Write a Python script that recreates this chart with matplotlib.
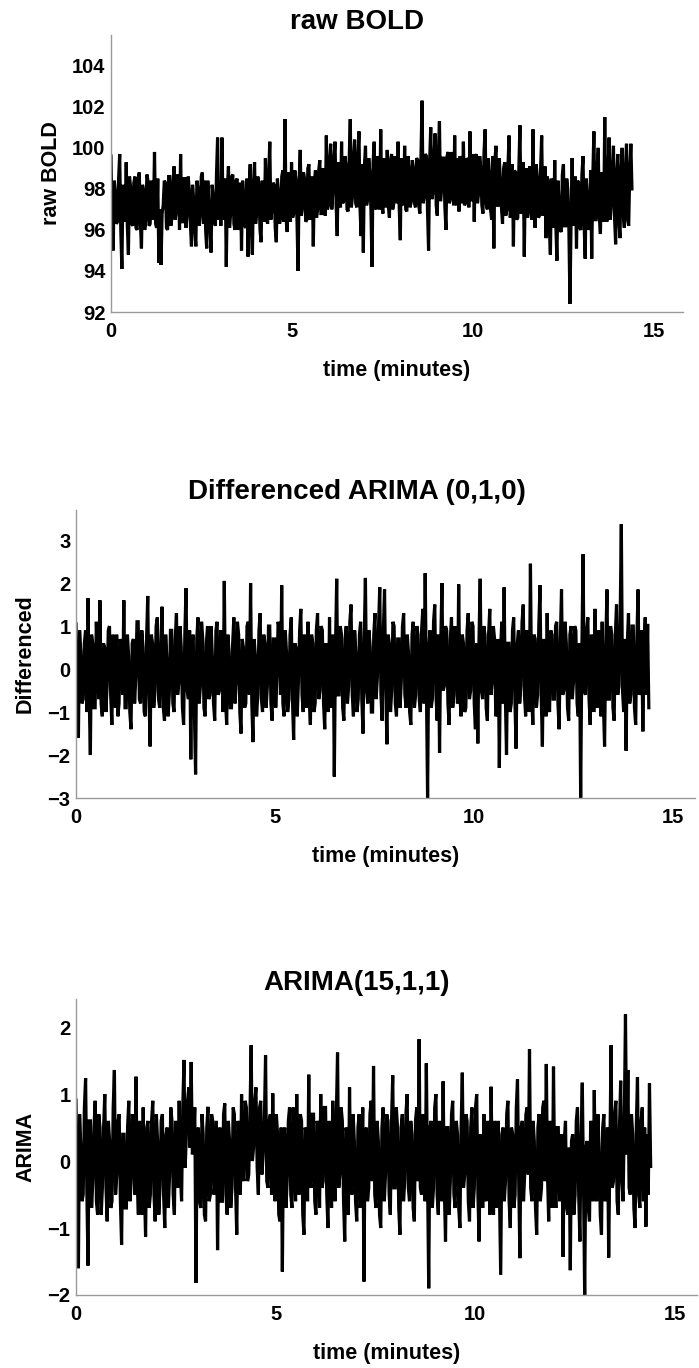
import numpy as np
import matplotlib
matplotlib.use("Agg")
import matplotlib.pyplot as plt

plt.rcParams['font.family'] = ['Liberation Sans', 'DejaVu Sans']
plt.rcParams['font.weight'] = 'bold'

# scan length in minutes; samples are evenly spaced over it
scan_minutes = 14.39

raw_bold = [
    99.6, 96.1, 95.0, 98.4, 97.8, 96.3, 96.4, 98.5, 99.7, 96.0,
    94.1, 98.2, 97.5, 96.4, 99.3, 96.2, 94.8, 98.6, 98.1, 96.3,
    96.2, 98.3, 98.6, 96.1, 96.0, 98.5, 98.8, 96.4, 95.1, 98.2,
    97.9, 96.0, 96.5, 98.7, 98.4, 96.2, 96.3, 98.4, 97.6, 96.5,
    99.8, 96.3, 96.1, 98.5, 94.4, 97.0, 94.3, 96.8, 97.2, 98.4,
    98.3, 96.1, 96.0, 98.6, 98.6, 96.2, 96.6, 98.3, 99.1, 96.5,
    96.9, 98.7, 98.2, 96.0, 99.7, 96.4, 96.4, 98.5, 98.5, 96.1,
    96.8, 98.6, 97.9, 96.3, 95.2, 98.2, 97.5, 96.0, 95.2, 98.4,
    98.0, 96.2, 96.7, 98.6, 98.8, 96.3, 98.4, 96.0, 95.1, 98.4,
    97.3, 96.1, 94.9, 98.2, 97.6, 96.4, 96.2, 98.7, 100.5, 96.5,
    98.3, 96.2, 100.5, 97.0, 96.5, 98.5, 94.2, 98.0, 99.1, 96.1,
    96.8, 98.6, 98.7, 96.3, 96.0, 98.4, 98.5, 96.0, 96.4, 98.3,
    95.0, 98.4, 97.7, 96.2, 96.1, 98.5, 94.7, 98.0, 99.2, 96.1,
    94.8, 98.2, 99.3, 96.3, 96.9, 98.6, 98.1, 96.0, 95.4, 98.4,
    97.4, 96.4, 99.5, 96.6, 96.3, 98.7, 100.3, 96.5, 97.0, 98.3,
    98.2, 96.1, 95.4, 98.5, 97.8, 96.3, 96.6, 98.6, 98.9, 96.4,
    101.4, 96.5, 95.9, 98.8, 97.9, 96.4, 99.3, 96.6, 96.8, 98.9,
    98.5, 96.5, 94.0, 98.4, 99.9, 96.7, 97.1, 98.8, 98.5, 96.4,
    96.5, 99.0, 99.2, 96.5, 97.3, 98.6, 95.2, 98.3, 98.9, 96.6,
    97.0, 98.9, 99.4, 96.8, 96.8, 99.0, 98.6, 96.7, 100.6, 97.0,
    97.2, 99.4, 100.2, 97.0, 97.9, 99.5, 100.3, 97.2, 95.7, 99.3,
    98.7, 97.1, 100.3, 97.3, 97.4, 99.6, 99.2, 97.0, 96.9, 99.4,
    101.4, 97.1, 97.6, 99.5, 100.4, 97.3, 97.1, 99.6, 100.8, 97.0,
    95.7, 99.2, 94.9, 99.1, 100.1, 97.2, 97.5, 99.5, 98.8, 97.0,
    94.2, 99.3, 100.3, 97.1, 97.0, 99.6, 98.9, 97.0, 100.9, 97.3,
    96.8, 99.5, 98.4, 97.1, 99.9, 97.2, 96.6, 99.4, 99.7, 97.0,
    97.3, 99.6, 98.6, 97.3, 100.3, 97.1, 95.5, 99.5, 98.2, 97.2,
    100.1, 97.0, 96.9, 99.6, 99.0, 97.1, 97.4, 99.4, 99.0, 97.3,
    97.1, 99.5, 99.4, 97.2, 96.8, 99.6, 102.3, 97.3, 97.6, 99.7,
    99.6, 97.0, 95.0, 99.4, 101.0, 97.5, 97.8, 99.6, 100.7, 97.2,
    96.7, 99.7, 101.3, 97.4, 98.0, 99.5, 99.5, 97.1, 96.0, 99.6,
    99.8, 97.3, 97.5, 99.8, 98.6, 97.2, 100.6, 97.4, 97.2, 99.5,
    96.9, 99.6, 99.1, 97.3, 100.3, 97.2, 97.3, 99.5, 99.4, 97.1,
    100.8, 97.4, 97.6, 99.7, 96.4, 99.5, 99.7, 97.3, 97.8, 99.6,
    99.0, 97.2, 96.8, 99.8, 100.9, 97.3, 97.0, 99.5, 98.7, 97.0,
    96.5, 99.6, 95.1, 99.4, 100.1, 97.2, 97.2, 99.5, 98.4, 97.1,
    96.3, 99.0, 99.3, 96.7, 97.0, 99.1, 100.6, 96.6, 96.8, 99.2,
    95.2, 98.9, 98.8, 96.5, 96.6, 99.0, 101.1, 96.8, 97.4, 99.3,
    94.7, 98.8, 99.0, 96.6, 96.9, 99.1, 98.3, 96.5, 100.9, 96.8,
    96.1, 99.2, 98.5, 96.6, 96.7, 99.0, 100.6, 96.7, 97.0, 99.1,
    95.6, 98.6, 98.4, 96.2, 94.8, 98.5, 97.7, 96.1, 99.4, 96.3,
    94.5, 98.4, 97.3, 96.0, 95.9, 98.7, 99.2, 96.2, 96.2, 98.5,
    98.0, 96.1, 92.4, 96.4, 99.5, 96.2, 96.7, 98.6, 95.1, 98.4,
    98.3, 96.1, 96.0, 98.7, 99.6, 96.3, 94.6, 98.5, 97.6, 96.0,
    96.3, 98.9, 94.6, 98.6, 100.8, 96.5, 96.5, 99.0, 100.0, 96.6,
    95.8, 98.8, 98.1, 96.4, 101.5, 96.7, 96.4, 98.9, 100.5, 96.5,
    97.2, 99.1, 100.1, 96.6, 95.3, 98.7, 99.7, 96.4, 95.6, 98.9,
    100.0, 96.8, 96.1, 99.0, 100.2, 96.5, 96.2, 99.0, 100.2, 98.0,
]

differenced = [
    1.05, -0.7, -1.6, 0.9, 0.4, -0.8, -0.7, 0.6, 0.9, -1.0,
    1.65, -0.6, -2.0, 0.8, 0.6, -0.9, -0.9, 1.1, 0.3, -0.7,
    1.6, -0.8, -1.1, 0.6, 0.5, -1.0, -0.4, 0.9, 1.0, -0.6,
    -1.3, 0.8, 0.2, -0.9, 0.8, -1.1, -0.8, 0.7, 0.4, -0.6,
    1.6, -0.9, -0.9, 0.8, 0.3, -1.0, -1.4, 0.6, 0.7, -0.8,
    -0.2, 1.1, 1.1, -0.7, -0.8, 0.9, 0.5, -1.0, -1.1, 0.7,
    1.7, -0.6, -1.8, 0.8, 0.6, -0.9, -0.5, 1.0, 1.2, -0.7,
    -0.9, 0.6, 1.45, -0.9, -1.2, 0.8, 0.2, -1.1, -0.6, 0.9,
    0.9, -0.8, -1.0, 0.7, 1.3, -0.6, -0.3, 1.0, 0.5, -0.9,
    -1.3, 0.8, 1.88, -0.5, -0.7, 0.9, -2.1, 0.6, 0.8, -1.0,
    -2.45, 0.7, 1.2, -0.8, -0.4, 1.1, 0.7, -0.9, -1.1, 0.6,
    1.0, -0.7, -0.6, 1.0, 0.3, -0.8, -1.2, 0.9, 1.1, -0.6,
    -0.5, 0.9, 0.6, -1.0, 2.05, -0.7, -1.3, 0.8, 0.4, -0.9,
    -0.9, 0.6, 1.2, -0.8, -0.3, 1.1, 0.8, -1.0, -1.5, 0.7,
    0.5, -0.9, -0.8, 1.0, 1.1, -0.6, 2.0, -0.8, -1.7, 0.7,
    0.3, -1.1, -0.6, 0.9, 1.3, -0.7, -1.0, 0.8, 0.6, -0.9,
    -0.4, 1.0, 1.0, -0.8, -1.2, 0.7, 0.7, -0.9, -0.2, 1.1,
    0.9, -0.6, 1.95, -0.8, -1.1, 0.9, 0.4, -1.0, -0.7, 0.8,
    1.2, -0.7, -1.65, 0.6, 0.5, -1.1, -0.3, 0.9, 1.4, -0.6,
    -1.0, 0.8, 0.2, -0.9, 1.1, -0.7, -1.3, 0.8, 0.6, -1.0,
    -0.8, 0.9, 1.3, -0.7, -0.5, 1.0, 0.9, -0.8, -1.4, 0.6,
    0.3, -1.0, 1.2, -0.7, -0.9, 0.8, -2.5, 0.5, 2.1, -0.6,
    -0.6, 1.0, 0.8, -0.9, -1.2, 0.7, 1.0, -0.8, -0.4, 1.1,
    1.5, -0.6, -1.1, 0.9, 0.4, -1.0, -0.7, 0.8, 1.1, -0.7,
    -1.5, 0.7, 2.12, -0.5, -0.8, 0.9, 0.5, -1.0, -1.0, 0.8,
    1.3, -0.7, -0.2, 1.0, 1.9, -0.6, -1.2, 0.9, 1.85, -0.4,
    -1.75, 0.8, 0.6, -1.0, -0.5, 1.1, 1.0, -0.8, -1.1, 0.7,
    0.7, -0.9, -0.3, 1.0, 1.3, -0.6, -0.9, 0.8, 0.4, -1.0,
    -1.3, 0.8, 1.1, -0.9, -0.6, 1.0, 0.8, -0.7, -1.0, 0.9,
    1.4, -0.8, 2.23, -0.4, -3.0, 0.5, 0.9, -0.9, -0.7, 1.1,
    1.5, -0.6, -1.2, 0.8, -1.95, 0.6, 2.0, -0.5, -0.4, 1.0,
    0.9, -0.8, -1.3, 0.7, 1.2, -0.9, -0.6, 1.0, 0.5, -0.8,
    1.97, -0.6, -1.1, 0.8, 0.6, -1.0, -0.9, 0.9, 1.3, -0.7,
    -0.5, 1.1, 1.0, -0.8, -1.4, 0.6, -1.73, 0.7, 2.1, -0.5,
    -0.7, 1.0, 0.8, -0.9, -1.2, 0.8, 1.4, -0.6, -0.3, 1.0,
    0.7, -1.1, -1.0, 0.7, -2.3, 0.4, 1.1, -0.8, 1.9, -0.6,
    -2.0, 0.6, 0.6, -1.0, -0.8, 0.9, 1.2, -0.7, -1.85, 0.6,
    0.9, -0.8, -0.4, 1.1, 1.5, -0.6, -1.1, 0.9, 0.5, -1.0,
    2.45, -0.5, -1.3, 0.8, 0.7, -0.9, -0.6, 1.0, 1.95, -0.6,
    -1.8, 0.7, 0.4, -1.1, 1.3, -0.8, -1.0, 0.9, 0.8, -0.7,
    -0.7, 1.0, 1.1, -0.8, -1.4, 0.7, 1.85, -0.6, -0.5, 1.1,
    0.6, -0.9, -1.2, 0.8, 1.0, -0.7, -0.3, 1.0, 0.9, -0.8,
    -1.1, 0.6, -3.0, 0.4, 2.67, -0.5, -0.6, 0.9, 1.2, -0.7,
    -1.3, 0.8, 0.5, -1.0, 1.4, -0.6, -0.9, 0.9, 0.3, -1.1,
    1.1, -0.8, -1.8, 0.6, 1.85, -0.7, -0.7, 1.0, 0.8, -0.9,
    -1.2, 0.8, 1.5, -0.6, -0.4, 1.1, 3.37, -0.5, -1.0, 0.7,
    -1.9, 0.6, 1.3, -0.8, -0.6, 1.0, 1.0, -0.9, -1.3, 0.7,
    1.85, -0.6, -0.5, 0.9, -1.45, 0.5, 1.2, -0.6, 1.05, -0.9,
]

arima_resid = [
    0.91, -0.5, -1.6, 0.7, 0.2, -0.6, -0.5, 0.8, 1.24, -0.4,
    -1.56, 0.6, 0.6, -0.7, -0.3, 0.5, 0.9, -0.6, -0.8, 0.7,
    0.5, -0.8, -0.4, 0.5, 1.0, -0.4, -0.9, 0.6, 0.3, -0.7,
    -0.6, 0.8, 1.36, -0.5, -0.2, 0.6, 0.7, -0.6, -1.25, 0.4,
    0.4, -0.7, -0.7, 0.5, 0.9, -0.6, -0.3, 0.7, 0.5, -0.5,
    1.26, -0.3, -0.8, 0.6, 0.2, -0.8, 0.8, -0.4, -1.13, 0.5,
    0.6, -0.7, -0.5, 0.6, 0.9, -0.5, -0.9, 0.7, 0.3, -0.8,
    -0.4, 0.6, 0.7, -0.5, -1.0, 0.4, 0.5, -0.7, -0.2, 0.8,
    0.6, -0.5, -0.8, 0.6, 0.2, -0.4, 0.9, -0.2, -0.6, 0.8,
    1.51, -0.1, 0.4, 0.9, 1.1, 0.2, 1.48, 0.1, 0.3, 0.8,
    -1.82, 0.4, 0.5, -0.6, -0.7, 0.7, 0.4, -0.8, -0.9, 0.5,
    0.81, -0.6, -0.5, 0.7, 0.6, -0.5, -0.3, 0.6, -1.33, 0.3,
    0.5, -0.6, -0.6, 0.7, 0.86, -0.5, -0.8, 0.6, 0.3, -0.7,
    -0.4, 0.8, 0.7, -0.4, -1.1, 0.6, 0.4, -0.5, 1.0, -0.2,
    -0.3, 0.9, 0.8, -0.3, -0.2, 0.7, 1.73, 0.0, 0.2, 0.9,
    1.1, -0.1, -0.5, 0.8, 0.9, -0.2, 0.1, 0.6, 1.58, -0.3,
    -0.4, 0.6, 0.7, -0.5, 1.01, -0.2, -0.6, 0.7, 0.4, -0.8,
    -0.9, 0.5, -1.65, 0.4, 0.5, -0.7, -0.3, 0.6, 0.8, -0.5,
    -0.7, 0.8, 0.3, -0.6, 1.0, -0.4, -0.5, 0.7, 0.6, -0.8,
    -1.1, 0.5, 0.4, -0.6, 1.29, -0.3, -0.4, 0.7, 0.7, -0.6,
    -0.8, 0.6, 0.5, -0.7, 1.0, -0.4, -0.3, 0.8, 0.8, -0.5,
    -1.0, 0.6, 0.2, -0.7, 0.9, -0.3, -0.6, 0.7, 1.62, -0.4,
    -0.2, 0.8, 0.6, -0.6, -1.2, 0.5, 0.4, -0.8, 1.1, -0.3,
    -0.5, 0.7, 0.3, -0.6, -0.9, 0.5, 0.7, -0.7, -0.3, 0.8,
    -1.8, 0.4, 0.5, -0.6, -0.4, 0.7, 0.9, -0.3, 1.42, -0.5,
    -0.7, 0.6, 0.3, -0.8, -1.0, 0.5, 0.8, -0.6, -0.2, 0.7,
    0.6, -0.5, -0.8, 0.6, 1.28, -0.4, -0.4, 0.8, 0.5, -0.7,
    -1.1, 0.5, 0.7, -0.6, -0.3, 0.7, 1.0, -0.4, -0.6, 0.6,
    0.4, -0.7, -0.9, 0.6, 0.8, -0.3, 1.82, -0.4, -0.5, 0.7,
    0.3, -0.6, 1.46, -0.2, -1.9, 0.5, 0.6, -0.7, -0.4, 0.8,
    1.0, -0.5, -0.8, 0.6, 0.2, -0.6, 1.19, -0.4, -1.2, 0.5,
    0.5, -0.8, -0.3, 0.7, 0.9, -0.5, -0.7, 0.6, 0.4, -0.7,
    -1.0, 0.5, 1.32, -0.4, -0.2, 0.7, 0.6, -0.6, -0.9, 0.5,
    0.8, -0.7, -0.4, 0.8, 1.0, -0.5, -1.2, 0.4, 0.3, -0.7,
    0.7, -0.5, -0.6, 0.6, 0.4, -0.8, 1.11, -0.3, -0.8, 0.6,
    0.2, -0.7, 0.6, -0.5, -1.7, 0.4, 0.5, -0.6, -0.3, 0.7,
    0.9, -0.6, -1.0, 0.5, 0.4, -0.7, -0.5, 0.8, 1.22, -0.3,
    -1.45, 0.5, 0.6, -0.6, -0.2, 0.7, 0.8, -0.2, 1.67, -0.4,
    -0.6, 0.6, 0.3, -0.7, -1.1, 0.5, 0.7, -0.6, -0.4, 0.8,
    0.9, -0.3, 1.45, -0.2, -0.9, 0.6, 0.2, -0.7, 1.41, -0.3,
    -0.7, 0.5, 0.5, -0.6, -0.3, 0.4, -1.43, 0.3, 0.6, -0.7,
    -0.8, 0.2, -1.63, 0.3, 0.4, -0.8, -0.5, 0.6, 0.8, -0.5,
    -1.2, 0.4, 1.17, -0.3, -2.05, 0.2, 0.3, -0.7, -0.9, 0.6,
    0.5, -0.6, 1.06, -0.4, -0.6, 0.7, 0.2, -0.8, -1.1, 0.5,
    0.7, -0.6, -0.4, 0.5, -1.44, 0.2, 1.73, -0.4, -0.3, 0.7,
    0.9, -0.6, -0.8, 0.5, 1.2, -0.3, -0.6, 0.6, 2.19, 0.1,
    1.36, -0.4, -0.5, 0.7, 0.4, -0.7, -1.0, 0.5, 1.25, -0.5,
    -0.7, 0.6, 0.8, -0.6, 0.5, -0.98, 0.4, -0.5, 1.16, -0.08,
]

panel_titles = ["raw BOLD", "Differenced ARIMA (0,1,0)", "ARIMA(15,1,1)"]
panel_ylabels = ["raw BOLD", "Differenced", "ARIMA"]
panel_yticks = [[92, 94, 96, 98, 100, 102, 104], [-3, -2, -1, 0, 1, 2, 3], [-2, -1, 0, 1, 2]]
panel_ylims = [(92, 105.5), (-3, 3.7), (-2, 2.42)]
xticks = [0, 5, 10, 15]

W, H = 699, 1368
fig = plt.figure(figsize=(W / 100, H / 100), dpi=100)


def px_axes(left, top, right, bottom):
    return fig.add_axes([left / W, 1 - bottom / H, (right - left) / W, (bottom - top) / H])


axes_px = [(111, 35, 683, 312), (76, 510, 695, 798), (76, 999, 697, 1295)]
title_y = [22, 492, 983]
xlims = [15.8, 15.55, 15.55]
ylabel_right = [62, 36, 36]

series = [raw_bold, differenced, arima_resid]
gray = "#9a9a9a"

for k in range(3):
    ax = px_axes(*axes_px[k])
    y = np.asarray(series[k], dtype=float)
    t = np.linspace(0, scan_minutes, len(y))
    ax.plot(t, y, color="black", lw=2.3, solid_joinstyle="miter")
    ax.set_xlim(0, xlims[k])
    ax.set_ylim(*panel_ylims[k])
    ax.set_xticks(xticks)
    ax.set_yticks(panel_yticks[k])
    for s in ("top", "right"):
        ax.spines[s].set_visible(False)
    for s in ("left", "bottom"):
        ax.spines[s].set_color(gray)
        ax.spines[s].set_linewidth(1.0)
    ax.tick_params(length=0, labelsize=14.5)
    ax.tick_params(axis="x", pad=7)
    ax.tick_params(axis="y", pad=4)
    for lab in ax.get_xticklabels() + ax.get_yticklabels():
        lab.set_fontweight("bold")
    ax.set_xlabel("time (minutes)", fontsize=15.5, fontweight="bold", labelpad=14)
    ax.set_ylabel(panel_ylabels[k], fontsize=15.5, fontweight="bold")
    l, tp, r, b = axes_px[k]
    ax.yaxis.set_label_coords((ylabel_right[k] - l) / (r - l), 0.5)
    fig.text(357 / W, 1 - title_y[k] / H, panel_titles[k], ha="center", va="center",
             fontsize=20, fontweight="bold")

fig.savefig("out.png", dpi=100)
